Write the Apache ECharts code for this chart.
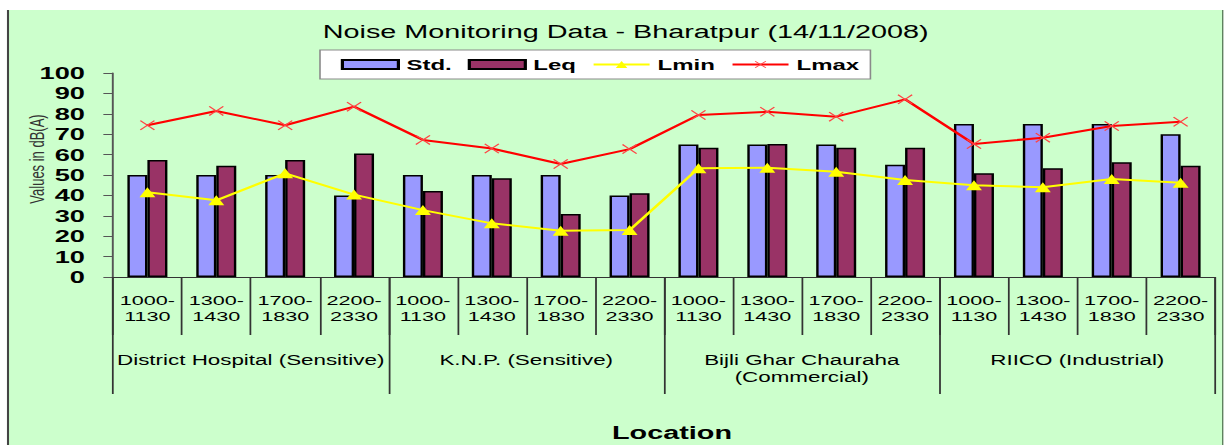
<!DOCTYPE html>
<html>
<head>
<meta charset="utf-8">
<script src="https://cdn.jsdelivr.net/npm/echarts@6/dist/echarts.min.js"></script>
<style>
  html, body { margin: 0; padding: 0; background: #ffffff; overflow: hidden; }
  /* the chart is laid out narrow and widened horizontally, like the stretched Excel export */
  #chart { width: 766px; height: 445px; transform: scaleX(1.6); transform-origin: 0 0; }
</style>
</head>
<body>
<div id="chart"></div>
<script>
// Monitoring sites and time slots
const locations = ['District Hospital (Sensitive)', 'K.N.P. (Sensitive)', 'Bijli Ghar Chauraha\n(Commercial)', 'RIICO (Industrial)'];
const slots = ['1000-\n1130', '1300-\n1430', '1700-\n1830', '2200-\n2330'];
const categories = locations.flatMap(() => slots);

// Noise levels in dB(A), one value per site/slot
const stdValues  = [50, 50, 50, 40, 50, 50, 50, 40, 65, 65, 65, 55, 75, 75, 75, 70];
const leqValues  = [57.3, 54.5, 57.3, 60.6, 42.2, 48.4, 30.9, 41.0, 63.3, 65.2, 63.3, 63.3, 50.8, 53.3, 56.2, 54.5];
const lminValues = [41.5, 37.6, 50.8, 40.4, 32.8, 26.3, 22.7, 23.0, 53.3, 53.6, 51.6, 47.5, 45.0, 44.0, 48.0, 46.2];
const lmaxValues = [74.4, 81.4, 74.4, 83.5, 67.2, 63.0, 55.4, 62.7, 79.4, 81.0, 78.6, 87.1, 65.2, 68.3, 74.0, 76.1];

const yTicks = { min: 0, max: 100, step: 10 };

const FONT = '"Liberation Sans", Arial, sans-serif';
const crossPath = 'path://M0,1L1,0L7,5.2L13,0L14,1L8,6L14,11L13,12L7,6.8L1,12L0,11L6,6Z';

const chart = echarts.init(document.getElementById('chart'), null, { renderer: 'svg' });

chart.setOption({
  backgroundColor: 'transparent',
  animation: false,
  textStyle: { fontFamily: FONT },
  graphic: [
    { type: 'rect', z: -10, silent: true,
      shape: { x: 4.4, y: 10, width: 760, height: 440 },
      style: { fill: '#ccffcc' } },
    { type: 'line', z: -9, silent: true,
      shape: { x1: 5, y1: 10, x2: 5, y2: 445 },
      style: { stroke: '#444444', lineWidth: 1.3 } },
    { type: 'line', z: -9, silent: true,
      shape: { x1: 764.2, y1: 10, x2: 764.2, y2: 445 },
      style: { stroke: '#557755', lineWidth: 0.8 } },
    { type: 'text', x: 391, y: 32, silent: true,
      style: { text: 'Noise Monitoring Data - Bharatpur (14/11/2008)', fill: '#000000',
               font: '18px ' + FONT, textAlign: 'center', textVerticalAlign: 'middle' } },
    { type: 'text', x: 420, y: 433, silent: true,
      style: { text: 'Location', fill: '#000000',
               font: 'bold 18px ' + FONT, textAlign: 'center', textVerticalAlign: 'middle' } },
    { type: 'text', x: 23, y: 159, rotation: Math.PI / 2, silent: true,
      style: { text: 'Values in dB(A)', fill: '#333333',
               font: '13px ' + FONT, textAlign: 'center', textVerticalAlign: 'middle' } }
  ],
  legend: {
    left: 200,
    top: 50,
    padding: [7, 7, 7, 13],
    itemGap: 10,
    itemWidth: 35,
    itemHeight: 9,
    backgroundColor: '#ffffff',
    borderColor: '#8a8a8a',
    borderWidth: 1,
    textStyle: { fontSize: 15, fontWeight: 'bold', color: '#000000', fontFamily: FONT },
    data: [
      { name: 'Std.', icon: 'rect' },
      { name: 'Leq', icon: 'rect' },
      { name: 'Lmin' },
      { name: 'Lmax' }
    ]
  },
  grid: { left: 70.6, right: 6.6, top: 73, bottom: 168, containLabel: false },
  xAxis: [
    {
      type: 'category',
      data: categories,
      boundaryGap: true,
      axisLine: { show: true, lineStyle: { color: '#333333', width: 1.2 } },
      axisTick: { show: true, interval: 0, length: 58, lineStyle: { color: '#333333', width: 1.1 } },
      axisLabel: { interval: 0, margin: 16, fontSize: 13.5, lineHeight: 16, color: '#000000', fontFamily: FONT }
    },
    {
      type: 'category',
      position: 'bottom',
      data: locations,
      boundaryGap: true,
      axisLine: { show: false },
      axisTick: { show: true, interval: 0, length: 117, lineStyle: { color: '#333333', width: 1.1 } },
      axisLabel: { interval: 0, margin: 74.5, fontSize: 14, lineHeight: 17, color: '#000000', fontFamily: FONT }
    }
  ],
  yAxis: {
    type: 'value',
    min: yTicks.min,
    max: yTicks.max,
    interval: yTicks.step,
    axisLine: { show: true, lineStyle: { color: '#555555', width: 1.2 } },
    axisTick: { show: true, length: 6, lineStyle: { color: '#555555' } },
    splitLine: { show: false },
    axisLabel: { margin: 17.5, fontSize: 17, fontWeight: 'bold', color: '#000000', fontFamily: FONT }
  },
  series: [
    {
      name: 'Std.', type: 'bar', xAxisIndex: 0, data: stdValues,
      barWidth: 12.5, barGap: '0%',
      itemStyle: { color: '#9999ff', borderColor: '#000000', borderWidth: 1.5 }
    },
    {
      name: 'Leq', type: 'bar', xAxisIndex: 0, data: leqValues,
      barWidth: 12.5, barGap: '0%',
      itemStyle: { color: '#993366', borderColor: '#000000', borderWidth: 1.5 }
    },
    {
      name: 'Lmin', type: 'line', xAxisIndex: 0, data: lminValues,
      symbol: 'triangle', symbolSize: [10, 10], z: 5,
      lineStyle: { color: '#ffff00', width: 2 },
      itemStyle: { color: '#ffff00' }
    },
    {
      name: 'Lmax', type: 'line', xAxisIndex: 0, data: lmaxValues,
      symbol: crossPath, symbolSize: [9.5, 10], z: 5,
      lineStyle: { color: '#ff0000', width: 2 },
      itemStyle: { color: '#ff4444' }
    }
  ]
});
</script>
</body>
</html>
